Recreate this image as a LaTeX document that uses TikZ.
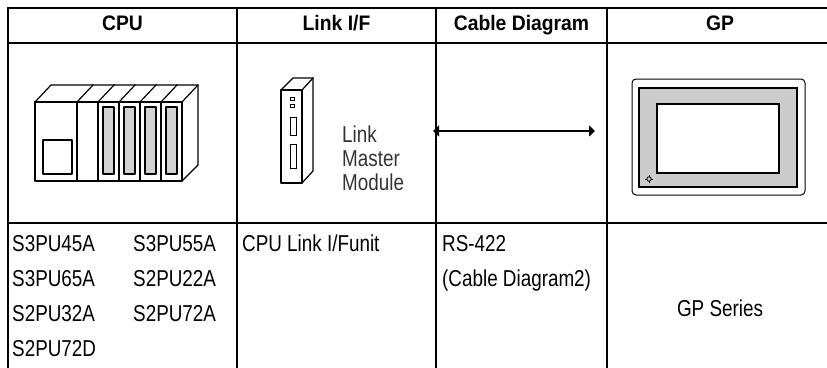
\documentclass[tikz,border=0pt]{standalone}
\usepackage{fontspec}
\setmainfont[FakeStretch=0.82]{Liberation Sans}
\newfontfamily\headfont[FakeStretch=0.92]{Liberation Sans}
\usetikzlibrary{arrows.meta}

\begin{document}
\begin{tikzpicture}[x=1pt,y=-1pt,line cap=rect]
  \tikzstyle{rule}=[line width=2.6pt];
  \tikzstyle{part}=[line width=1.2pt,line join=round];
  \tikzstyle{head}=[anchor=base,inner sep=0,font=\headfont\bfseries\fontsize{21}{21}\selectfont];
  \tikzstyle{cell}=[anchor=base west,inner sep=0,font=\fontsize{23}{23}\selectfont];

  \useasboundingbox (0,0) rectangle (827,367);

  % table lines
  \draw [rule] (8,8) -- (827,8);
  \draw [rule] (8,43) -- (827,43);
  \draw [rule] (8,223) -- (827,223);
  \foreach \x in {8,237,436,607}
    \draw [rule] (\x,8) -- (\x,367);

  % headers
  \node[head] (cpu) at (122.5,30) {CPU};
  \node[head] (linkif) at (336.5,30) {Link I/F};
  \node[head] (cable) at (521.5,30) {Cable Diagram};
  \node[head] (gp) at (720,30) {GP};

  % cpu rack
  \draw [part] (35,102) rectangle (182,181);
  \draw [part] (35,102) -- (51,85) -- (198,85) -- (198,165) -- (182,181);
  \foreach \x in {77,98,...,161}
    \draw [part] (\x,102) -- (\x,181);
  \foreach \x in {77,98,...,182}
    \draw [part] (\x,102) -- (\x+16,85);
  \foreach \x in {98,119,140,161}
    \draw [part,fill=gray!35] (\x+5,107) rectangle (\x+16,174);
  \draw [part] (43,140) rectangle (72,174);

  % link module
  \draw [part] (281,90) rectangle (302,183);
  \draw [part] (281,90) -- (293,78) -- (313,78) -- (313,171) -- (302,183);
  \draw [part] (302,90) -- (313,78);
  \draw [line width=1pt] (290,97) rectangle (294,100);
  \draw [line width=1pt] (290,104) rectangle (294,107);
  \draw [line width=1pt] (290,117) rectangle (296,135);
  \draw [line width=1pt] (290,144) rectangle (296,168);
  \node[cell,text=black!80] (lnk) at (342,142) {Link};
  \node[cell,text=black!80] (mst) at (342,166) {Master};
  \node[cell,text=black!80] (mdl) at (342,190) {Module};

  % cable
  \coordinate (cl) at (433,131);
  \coordinate (cr) at (595,131);
  \draw [line width=2.8pt,line cap=butt,{Triangle[length=6pt,width=11pt]}-{Triangle[length=6pt,width=11pt]}] (cl) -- (cr);

  % gp unit
  \draw [line width=1pt,rounded corners=4pt] (632,79) rectangle (805,195);
  \draw [line width=1.6pt,fill=gray!40] (639,88) rectangle (797,187);
  \draw [line width=1.6pt,fill=white] (657,104) rectangle (779,173);
  \draw [line width=0.8pt] (649,179) circle (2.2);
  \foreach \a in {0,90,180,270}
    \draw [line width=0.8pt] (649,179) ++(\a:2.2) -- ++(\a:1.5);

  % models
  \node[cell] (m1) at (12,251) {S3PU45A};
  \node[cell] (m2) at (133,251) {S3PU55A};
  \node[cell] (m3) at (12,286) {S3PU65A};
  \node[cell] (m4) at (133,286) {S2PU22A};
  \node[cell] (m5) at (12,321) {S2PU32A};
  \node[cell] (m6) at (133,321) {S2PU72A};
  \node[cell] (m7) at (12,356) {S2PU72D};
  \node[cell] (unit) at (242,251) {CPU Link I/Funit};
  \node[cell] (rs) at (442,251) {RS-422};
  \node[cell] (cd2) at (442,286) {(Cable Diagram2)};
  \node[cell,anchor=base] (series) at (720,316) {GP Series};
\end{tikzpicture}
\end{document}
